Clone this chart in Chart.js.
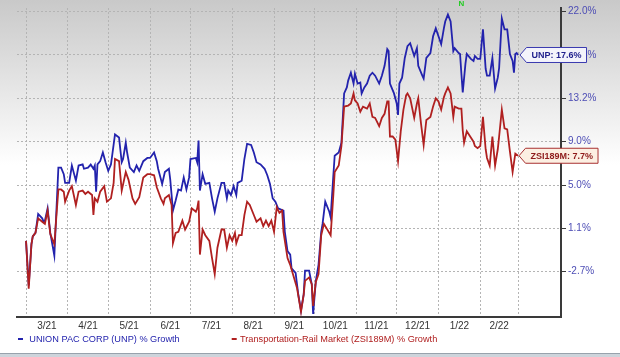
<!DOCTYPE html>
<html><head><meta charset="utf-8">
<script src="https://cdn.jsdelivr.net/npm/chart.js@4.4.1/dist/chart.umd.min.js"></script>
<style>html,body{margin:0;padding:0;background:#fff;overflow:hidden}canvas{display:block}</style>
</head><body>
<canvas id="c" width="620" height="357"></canvas>
<script>
// ---- data (days since 2021-03-01, % growth) ----
const monthStarts = [0,31,61,92,122,153,184,214,245,275,306,337,365];
const monthLabels = ['3/21','4/21','5/21','6/21','7/21','8/21','9/21','10/21','11/21','12/21','1/22','2/22'];
const yTickValues = [-2.7,1.1,5.0,9.0,13.2,17.6,22.0];
const yTickLabels = ['-2.7%','1.1%','5.0%','9.0%','13.2%','17.6%','22.0%'];
const seriesNames = ['UNION PAC CORP (UNP) % Growth','Transportation-Rail Market (ZSI189M) % Growth'];
const tagNames = ['UNP','ZSI189M'];
const newsDays = [323];

const unpDays = [
0,2,4,5,7,9,12,13,14,16,
18,21,24,26,28,29,32,34,37,39,
42,43,46,48,50,51,52,53,55,57,
59,61,63,64,66,69,71,72,74,75,
77,80,82,84,87,90,92,95,97,98,
101,103,106,107,109,111,113,115,117,119,
121,122,126,127,128,129,131,133,136,138,
140,142,145,147,149,150,152,154,156,157,
160,162,164,167,169,171,174,177,179,181,
183,185,187,191,192,194,196,197,200,202,
204,206,207,210,212,213,215,217,219,220,
222,225,226,228,229,232,234,236,238,239,
241,243,244,246,248,249,251,253,255,257,
259,262,264,266,268,269,270,273,275,276,
277,279,281,283,285,288,290,291,294,295,
297,300,302,304,306,308,310,311,313,315,
317,318,321,322,323,324,326,327,330,332,
333,335,337,339,341,342,344,346,348,350,
351,353,355,357,359,361,362,363,364,365];
const unpValues = [
0.0,-3.9,-0.3,0.4,0.7,2.4,2.0,1.7,1.8,2.9,
0.7,-1.3,6.6,6.6,6.0,5.2,5.2,6.8,5.4,6.8,
6.9,6.5,6.6,6.9,6.5,6.8,4.4,6.9,7.2,8.0,
7.1,6.3,6.9,7.8,9.7,9.4,7.1,7.4,8.9,8.0,
6.6,6.2,6.8,6.3,7.2,7.5,7.5,8.0,7.2,6.5,
5.1,6.2,6.5,5.5,2.7,3.6,4.6,4.5,5.7,4.6,
5.7,7.4,7.5,7.1,9.1,4.5,6.0,5.1,5.2,3.8,
2.6,3.8,5.2,5.2,3.8,4.5,4.1,4.9,4.1,5.2,
5.4,7.4,8.8,8.7,8.0,7.1,6.9,6.5,5.9,5.1,
3.8,3.5,2.9,2.7,0.8,-0.9,-1.2,-2.4,-2.8,-4.7,
-6.1,-4.7,-2.6,-2.6,-3.8,-6.4,-3.5,-2.1,0.8,1.5,
3.5,2.6,2.1,5.9,7.7,8.0,8.9,13.7,14.3,15.0,
15.8,14.7,15.7,14.7,14.8,13.7,14.3,14.7,15.5,15.8,
15.5,14.7,15.5,16.5,18.2,18.0,14.7,13.7,12.7,11.6,
14.7,15.3,17.3,18.5,18.8,17.5,18.3,16.5,15.5,15.2,
17.3,17.8,19.5,20.3,19.5,18.7,20.3,21.0,21.7,21.0,
18.0,18.3,17.8,17.7,15.7,13.8,16.7,17.7,17.2,17.0,
17.5,17.2,17.2,20.2,16.2,15.5,15.5,17.3,14.2,15.3,
16.3,21.3,20.2,20.2,17.7,17.0,15.8,17.7,17.8,17.6];

const zsiDays = [
0,2,4,5,7,9,12,14,16,18,
21,24,26,28,29,32,34,37,39,42,
44,46,49,50,51,53,55,58,60,63,
65,66,69,71,74,76,79,81,84,87,
90,92,95,97,100,102,103,106,108,109,
111,113,116,118,121,123,126,127,128,129,
131,133,136,138,140,142,145,147,149,151,
153,155,156,158,160,162,164,166,169,171,
174,176,178,180,182,184,186,188,190,191,
194,196,198,201,204,206,207,210,212,213,
215,217,219,221,223,226,228,229,232,234,
236,239,241,243,244,246,248,250,253,255,
257,259,262,264,266,268,269,270,272,274,
276,278,280,282,283,285,288,290,291,293,
295,297,300,302,304,306,308,310,311,313,
315,317,318,321,323,324,325,327,330,332,
333,335,337,339,341,342,344,346,348,350,
351,353,355,357,359,361,363,365];
const zsiValues = [
0.0,-4.2,-0.3,0.4,0.7,2.0,1.7,1.5,2.7,0.6,
-0.3,4.6,4.6,4.4,3.5,4.5,4.9,3.2,4.4,4.5,
4.2,4.4,4.1,2.3,3.8,3.5,4.4,4.9,3.5,3.8,
5.2,7.4,7.2,4.5,6.2,5.5,3.8,3.3,3.9,5.7,
6.0,6.0,5.9,4.8,3.8,3.3,3.8,4.1,3.2,-0.2,
0.7,0.8,1.8,1.0,1.7,2.9,2.6,2.9,3.6,-1.2,
1.0,0.5,0.0,-1.5,-2.9,-0.6,1.0,1.0,-0.6,0.5,
0.0,0.7,-0.2,0.5,0.5,2.3,3.5,3.2,2.3,1.7,
2.0,1.3,1.8,1.3,1.8,0.8,3.0,2.5,2.7,0.8,
-1.5,-2.1,-2.9,-4.1,-6.2,-4.7,-3.5,-3.2,-3.8,-5.7,
-3.6,-2.9,0.5,1.5,1.1,0.5,4.1,6.2,6.8,8.6,
12.4,12.5,12.7,13.7,13.0,12.7,11.9,12.4,12.2,12.7,
11.4,11.3,10.5,11.3,11.7,12.9,12.9,9.5,9.5,9.2,
7.2,10.0,12.1,13.5,13.7,13.2,11.3,12.7,13.2,10.8,
8.7,11.1,11.4,12.4,13.2,12.9,12.1,13.3,13.7,14.3,
13.7,11.4,12.4,12.2,12.2,10.1,8.9,10.0,9.4,9.0,
8.6,8.4,8.6,11.4,8.3,7.5,6.8,9.5,6.8,8.3,
9.5,12.1,10.3,10.2,8.1,6.2,7.9,7.7];

// ---- helpers ----
// The value axis has evenly spaced labels with uneven steps: map % onto that axis piecewise.
function toAxis(v){
  const t = yTickValues, n = t.length;
  if (v <= t[0]) return (v - t[0]) / (t[1] - t[0]);
  if (v >= t[n-1]) return (n-1) + (v - t[n-1]) / (t[n-1] - t[n-2]);
  let i = 0; while (v > t[i+1]) i++;
  return i + (v - t[i]) / (t[i+1] - t[i]);
}
const monthMids = monthLabels.map((l,i)=>(monthStarts[i]+monthStarts[i+1])/2);
const toPoints = (days, vals) => days.map((d,i)=>({x:d, y:toAxis(vals[i]), v:vals[i]}));

const BLUE = '#2323ad', RED = '#b02020';
const FONT = '"Liberation Sans", Arial, sans-serif';
const GRID = '#b4b4b4';

const bgPlugin = {
  id:'bg',
  beforeDraw(chart){
    const ctx = chart.ctx, W = chart.width, H = chart.height;
    ctx.save();
    const g = ctx.createLinearGradient(0,0,0,165);
    g.addColorStop(0,'#c9c9c9');
    g.addColorStop(1,'#ffffff');
    ctx.fillStyle = '#ffffff'; ctx.fillRect(0,0,W,H);
    ctx.fillStyle = g; ctx.fillRect(0,0,W,165);
    ctx.fillStyle = '#98a2ac'; ctx.fillRect(0,353,W,1);
    ctx.fillStyle = '#cdd4db'; ctx.fillRect(0,354,W,3);
    ctx.restore();
  }
};

function tag(ctx, tipX, y, text, border, fill, color){
  ctx.save();
  ctx.font = 'bold 9px ' + FONT;
  const w = ctx.measureText(text).width;
  const left = tipX + 6.5, right = left + w + 10, top = y - 7.5, bottom = y + 7.5;
  ctx.beginPath();
  ctx.moveTo(tipX, y); ctx.lineTo(left, top); ctx.lineTo(right, top);
  ctx.lineTo(right, bottom); ctx.lineTo(left, bottom); ctx.closePath();
  ctx.fillStyle = fill; ctx.fill();
  ctx.lineWidth = 1; ctx.strokeStyle = border; ctx.stroke();
  ctx.fillStyle = color; ctx.textBaseline = 'middle'; ctx.textAlign = 'left';
  ctx.fillText(text, left + 5, y + 0.5);
  ctx.restore();
}

const overlayPlugin = {
  id:'overlay',
  afterDraw(chart){
    const ctx = chart.ctx, xs = chart.scales.x, ys = chart.scales.y;
    const lastU = unpValues.length-1, lastZ = zsiValues.length-1;
    tag(ctx, xs.getPixelForValue(unpDays[lastU]) + 2, ys.getPixelForValue(toAxis(unpValues[lastU])),
        tagNames[0] + ': ' + unpValues[lastU].toFixed(1) + '%', '#3a3ab0', '#f3f3fb', '#1e1e8c');
    tag(ctx, xs.getPixelForValue(zsiDays[lastZ]) + 1, ys.getPixelForValue(toAxis(zsiValues[lastZ])),
        tagNames[1] + ': ' + zsiValues[lastZ].toFixed(1) + '%', '#a83030', '#fcefe2', '#8e1a1a');
    ctx.save();
    ctx.font = 'bold 8px ' + FONT; ctx.fillStyle = '#22cc22';
    ctx.textAlign = 'center'; ctx.textBaseline = 'middle';
    newsDays.forEach(d => ctx.fillText('N', xs.getPixelForValue(d), 4));
    ctx.restore();
    ctx.save();
    ctx.font = '9.2px ' + FONT; ctx.textBaseline = 'middle'; ctx.textAlign = 'left';
    const items = [{c:BLUE, t:seriesNames[0], dx:18, tx:29.3}, {c:RED, t:seriesNames[1], dx:231.7, tx:240}];
    items.forEach(it => {
      ctx.fillStyle = it.c;
      ctx.fillRect(it.dx, 338, 5, 2);
      ctx.fillText(it.t, it.tx, 339);
    });
    ctx.restore();
  }
};

new Chart(document.getElementById('c'), {
  type:'line',
  data:{
    datasets:[
      {label:seriesNames[1], data:toPoints(zsiDays, zsiValues), borderColor:RED, borderWidth:1.8, pointRadius:0, tension:0, fill:false},
      {label:seriesNames[0], data:toPoints(unpDays, unpValues), borderColor:BLUE, borderWidth:1.8, pointRadius:0, tension:0, fill:false}
    ]
  },
  options:{
    responsive:false, animation:false, devicePixelRatio:1,
    layout:{padding:{left:17, right:0, top:3, bottom:0}},
    plugins:{legend:{display:false}, tooltip:{enabled:false}},
    scales:{
      x:{
        type:'linear', min:-6.7, max:396.9,
        afterBuildTicks(s){ s.ticks = monthStarts.concat(monthMids).sort((a,b)=>a-b).map(v=>({value:v})); },
        afterFit(s){ s.height = 40; },
        ticks:{
          autoSkip:false, maxRotation:0, minRotation:0, padding:3,
          color:'#333', font:{family:FONT, size:10},
          callback(v){ const m = monthMids.indexOf(v); return m >= 0 ? monthLabels[m] : ''; }
        },
        grid:{
          drawTicks:false, lineWidth:1,
          color(c){ return (c.tick && monthMids.includes(c.tick.value)) ? 'rgba(0,0,0,0)' : GRID; }
        },
        border:{display:true, color:'#3a3a3a', width:2, dash:[2,2]}
      },
      y:{
        type:'linear', position:'right', min:-1.045, max:6.084,
        afterBuildTicks(s){ s.ticks = yTickLabels.map((l,i)=>({value:i})); },
        afterFit(s){ s.width = 59; },
        ticks:{
          padding:2, color:'#4d4db5', font:{family:FONT, size:10},
          callback(v, i){ return yTickLabels[i]; }
        },
        grid:{color:GRID, lineWidth:1, drawTicks:true, tickLength:5, tickColor:'#3a3a3a', tickWidth:1},
        border:{display:true, color:'#3a3a3a', width:2, dash:[2,2]}
      }
    }
  },
  plugins:[bgPlugin, overlayPlugin]
});
</script>
</body></html>
